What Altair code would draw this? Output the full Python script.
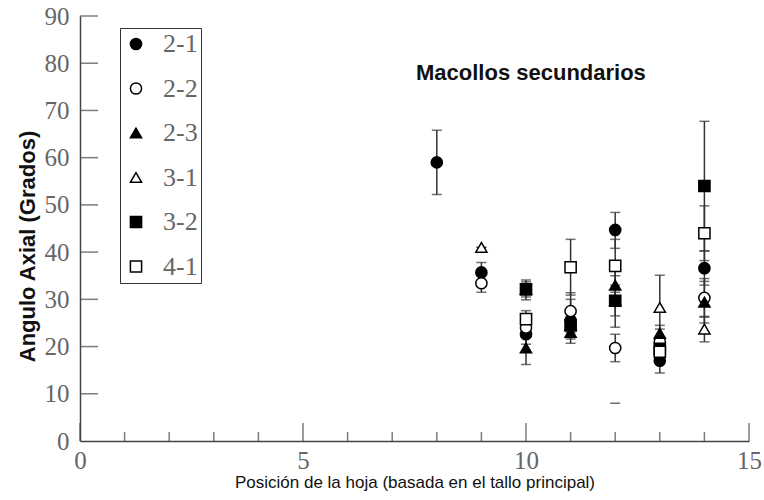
import altair as alt
import pandas as pd

# ---------------- data ----------------
positions = [8, 9, 10, 11, 12, 13, 14]
series_names = ["2-1", "2-2", "2-3", "3-1", "3-2", "4-1"]

means = {
    "2-1": [59.0, 35.7, 22.6, 25.5, 44.7, 17.0, 36.6],
    "2-2": [None, 33.4, 24.0, 27.5, 19.7, 21.0, 30.3],
    "2-3": [None, None, 19.7, 23.0, 33.0, 22.8, 29.4],
    "3-1": [None, 41.0, 32.1, 24.5, 29.7, 28.3, 23.7],
    "3-2": [None, None, 32.1, 24.5, 29.7, 19.5, 54.0],
    "4-1": [None, None, 25.8, 36.8, 37.1, 18.9, 44.0],
}
lows = {
    "2-1": [52.2, 33.6, 20.5, 23.0, 40.8, 14.4, 33.0],
    "2-2": [None, 31.5, 22.0, 25.0, 16.8, 18.3, 26.2],
    "2-3": [None, None, 16.2, 20.7, 29.0, 20.9, 25.0],
    "3-1": [None, 41.0, 30.5, 21.6, 26.5, 21.5, 21.0],
    "3-2": [None, None, 29.9, 22.0, 24.1, 17.5, 40.3],
    "4-1": [None, None, 24.0, 30.9, 31.5, 17.0, 38.2],
}
highs = {
    "2-1": [65.8, 37.8, 24.8, 28.0, 48.4, 19.6, 40.2],
    "2-2": [None, 35.3, 26.0, 30.0, 22.6, 23.7, 34.4],
    "2-3": [None, None, 23.2, 25.3, 37.0, 24.5, 33.8],
    "3-1": [None, 41.0, 33.7, 31.4, 33.0, 35.1, 26.4],
    "3-2": [None, None, 34.1, 27.0, 35.0, 21.5, 67.7],
    "4-1": [None, None, 27.6, 42.7, 42.7, 20.8, 49.8],
}
stray_cap_x = [12]
stray_cap_y = [8.0]

y_tick_values = [10, 20, 30, 40, 50, 60, 70, 80, 90]
x_major_ticks = [0, 5, 10, 15]
x_minor_ticks = [1, 2, 3, 4, 6, 7, 8, 9, 11, 12, 13, 14]

shapes = ["circle", "circle", "triangle-up", "triangle-up", "square", "square"]
fills = ["black", "white", "black", "white", "black", "white"]
strokes = ["black"] * 6

# ---------------- tables ----------------
rows = []
for s in series_names:
    for i, p in enumerate(positions):
        m = means[s][i]
        if m is None:
            continue
        rows.append({"series": s, "pos": p, "mean": m, "lo": lows[s][i], "hi": highs[s][i]})
df = pd.DataFrame(rows)

caps = pd.concat([
    df[["pos", "lo"]].rename(columns={"lo": "v"}),
    df[["pos", "hi"]].rename(columns={"hi": "v"}),
    pd.DataFrame({"pos": stray_cap_x, "v": stray_cap_y}),
], ignore_index=True)

ytick_df = pd.DataFrame({"t": y_tick_values})
xmaj_df = pd.DataFrame({"t": x_major_ticks})
xmin_df = pd.DataFrame({"t": x_minor_ticks})

SERIF = "Liberation Serif"
SANS = "Liberation Sans"
AXC = "#444444"

xscale = alt.Scale(domain=[0, 15], nice=False, zero=False)
yscale = alt.Scale(domain=[0, 90], nice=False, zero=False)

x_axis = alt.Axis(
    values=x_major_ticks, format="d", ticks=False, tickSize=0, grid=False,
    labelFont=SERIF, labelFontSize=25, labelColor="#666666", labelPadding=7,
    labelFlush=False, labelOverlap=False,
    domainColor=AXC, domainWidth=1.5,
    title="Posición de la hoja (basada en el tallo principal)",
    titleFont=SANS, titleFontSize=17, titleFontWeight="normal", titleColor="#111111",
    titleBaseline="alphabetic", titleY=46,
)
y_axis = alt.Axis(
    values=[0] + y_tick_values, format="d", ticks=False, tickSize=0, grid=False,
    labelFont=SERIF, labelFontSize=25, labelColor="#666666", labelPadding=11,
    labelFlush=False, labelOverlap=False,
    domainColor=AXC, domainWidth=1.5,
    title="Angulo Axial (Grados)",
    titleFont=SANS, titleFontSize=22, titleFontWeight="bold", titleColor="#111111",
    titleBaseline="middle", titleX=-53, titleY=230, titleAngle=270,
)

legend = alt.Legend(
    title=None, orient="none", legendX=40, legendY=12,
    labelFont=SERIF, labelFontSize=26, labelColor="#666666", labelOffset=14,
    symbolSize=125, symbolStrokeWidth=1.5, symbolStrokeColor="black",
    rowPadding=18.5, padding=3, strokeColor="#333333",
)

X = lambda f: alt.X(f, type="quantitative", scale=xscale, axis=x_axis)
Y = lambda f: alt.Y(f, type="quantitative", scale=yscale, axis=y_axis)

rules = alt.Chart(df).mark_rule(color="#333333", strokeWidth=1.5).encode(
    x=X("pos"), y=Y("lo"), y2="hi"
)
cap_marks = alt.Chart(caps).mark_tick(orient="horizontal", size=10, thickness=1.5, color="#333333").encode(
    x=X("pos"), y=Y("v")
)
points = alt.Chart(df).mark_point(filled=True, size=125, strokeWidth=1.5, opacity=1).encode(
    x=X("pos"), y=Y("mean"),
    shape=alt.Shape("series:N", scale=alt.Scale(domain=series_names, range=shapes), legend=legend),
    fill=alt.Fill("series:N", scale=alt.Scale(domain=series_names, range=fills), legend=legend),
    stroke=alt.Stroke("series:N", scale=alt.Scale(domain=series_names, range=strokes), legend=legend),
)

yticks = alt.Chart(ytick_df).mark_tick(orient="horizontal", size=18, thickness=1.5, xOffset=9, color=AXC).encode(
    y=Y("t"), x=alt.XDatum(0, type="quantitative", scale=xscale, axis=x_axis)
)
xmaj = alt.Chart(xmaj_df).mark_tick(orient="vertical", size=18, thickness=1.5, yOffset=-9, color=AXC).encode(
    x=X("t"), y=alt.YDatum(0, type="quantitative", scale=yscale, axis=y_axis)
)
xmin = alt.Chart(xmin_df).mark_tick(orient="vertical", size=9, thickness=1.5, yOffset=-4.5, color=AXC).encode(
    x=X("t"), y=alt.YDatum(0, type="quantitative", scale=yscale, axis=y_axis)
)

chart = alt.layer(yticks, xmaj, xmin, rules, cap_marks, points).properties(
    width=669, height=425,
    autosize=alt.AutoSizeParams(type="none"),
    padding={"left": 80, "top": 16, "right": 15, "bottom": 59},
    title=alt.TitleParams(
        text="Macollos secundarios", font=SANS, fontSize=22, fontWeight="bold",
        color="#111111", anchor="start", frame="group", dx=336, dy=85,
    ),
    background="white",
).configure_view(stroke=None)

chart.save("out.html", embed_options={"renderer": "svg", "actions": False})
